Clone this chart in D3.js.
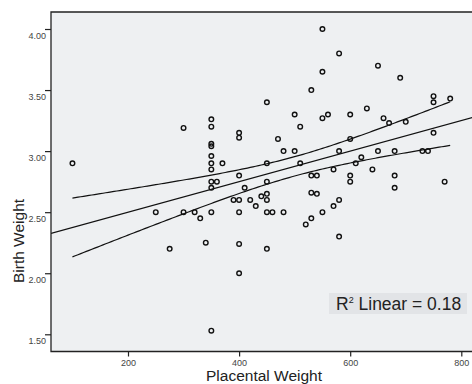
<!DOCTYPE html>
<html>
<head>
<meta charset="utf-8">
<script src="https://cdn.jsdelivr.net/npm/d3@7"></script>
<style>
  body { margin: 0; background: #fff; }
  svg { display: block; font-family: "Liberation Sans", Arial, sans-serif; }
</style>
</head>
<body>
<svg width="472" height="384"></svg>
<script>
// data (grams, kg)
const placentalWeight = [
  100, 250, 300, 320, 330, 350, 400, 450, 460, 480,
  275, 340, 400, 450, 400, 350, 300, 350, 350, 350,
  350, 350, 350, 350, 370, 350, 360, 350, 400, 400,
  400, 410, 390, 400, 420, 430, 440, 450, 450, 450,
  450, 450, 470, 480, 500, 500, 510, 510, 530, 550,
  580, 550, 550, 560, 600, 630, 650, 690, 750, 750,
  780, 660, 670, 700, 600, 580, 650, 680, 730, 740,
  750, 620, 610, 570, 640, 530, 540, 600, 600, 680,
  680, 770, 530, 540, 580, 570, 550, 530, 520, 580
];
const birthWeight = [
  2.90, 2.50, 2.50, 2.50, 2.45, 2.50, 2.50, 2.50, 2.50, 2.50,
  2.20, 2.25, 2.24, 2.20, 2.00, 1.53, 3.19, 3.26, 3.20, 3.06,
  3.04, 2.96, 2.90, 2.85, 2.90, 2.75, 2.75, 2.70, 3.15, 3.11,
  2.80, 2.70, 2.60, 2.60, 2.60, 2.55, 2.63, 2.65, 2.60, 2.75,
  2.90, 3.40, 3.10, 3.00, 3.00, 3.30, 3.20, 2.90, 3.50, 4.00,
  3.80, 3.65, 3.27, 3.30, 3.30, 3.35, 3.70, 3.60, 3.45, 3.40,
  3.43, 3.27, 3.23, 3.24, 3.10, 3.00, 3.00, 3.00, 3.00, 3.00,
  3.15, 2.95, 2.90, 2.85, 2.85, 2.80, 2.80, 2.80, 2.75, 2.80,
  2.70, 2.75, 2.66, 2.65, 2.60, 2.55, 2.50, 2.45, 2.40, 2.30
];
const xTicks = [200, 400, 600, 800];
const yTicks = [1.5, 2.0, 2.5, 3.0, 3.5, 4.0];
const r2Label = "0.18";
const tCrit = 1.987; // t(0.975, n-2)

const points = placentalWeight.map((x, i) => ({x, y: birthWeight[i]}));

const svg = d3.select("svg");
const pl = 51, pt = 12, pr = 476, pb = 351.5;

const x = d3.scaleLinear().domain([200, 800]).range([128, 461.3]);
const y = d3.scaleLinear().domain([4.0, 1.5]).range([29, 334.3]);

// least squares fit + 95% mean CI
const n = points.length;
const mx = d3.mean(points, d => d.x), my = d3.mean(points, d => d.y);
const sxx = d3.sum(points, d => (d.x - mx) ** 2);
const sxy = d3.sum(points, d => (d.x - mx) * (d.y - my));
const slope = sxy / sxx, icpt = my - slope * mx;
const sse = d3.sum(points, d => (d.y - icpt - slope * d.x) ** 2);
const s = Math.sqrt(sse / (n - 2));
const fit = v => icpt + slope * v;
const half = v => tCrit * s * Math.sqrt(1 / n + (v - mx) ** 2 / sxx);

// plot background
svg.append("rect")
    .attr("x", pl).attr("y", pt)
    .attr("width", pr - pl).attr("height", pb - pt)
    .attr("fill", "#eef0f2");

const plot = svg.append("g");
plot.append("clipPath").attr("id", "clip")
    .append("rect").attr("x", pl).attr("y", pt)
    .attr("width", pr - pl).attr("height", pb - pt);

const line = d3.line().x(d => x(d[0])).y(d => y(d[1]));
const [xmin, xmax] = d3.extent(points, d => d.x);
const ciX = d3.range(xmin, xmax + 1, 5);
const g = plot.append("g").attr("clip-path", "url(#clip)")
    .attr("fill", "none").attr("stroke", "#111").attr("stroke-width", 1.2);
g.append("path").attr("d", line([[x.invert(pl), fit(x.invert(pl))], [x.invert(pr), fit(x.invert(pr))]]));
g.append("path").attr("d", line(ciX.map(v => [v, fit(v) + half(v)])));
g.append("path").attr("d", line(ciX.map(v => [v, fit(v) - half(v)])));

plot.append("g")
    .selectAll("circle")
    .data(points)
    .join("circle")
    .attr("cx", d => x(d.x))
    .attr("cy", d => y(d.y))
    .attr("r", 2.3)
    .attr("fill", "none")
    .attr("stroke", "#111")
    .attr("stroke-width", 1.4);

// frame
svg.append("path")
    .attr("d", `M${pr},${pt}H${pl}V${pb}H${pr}`)
    .attr("fill", "none").attr("stroke", "#222").attr("stroke-width", 1.3);

// axes
const xAxis = svg.append("g")
    .attr("transform", `translate(0,${pb})`)
    .call(d3.axisBottom(x).tickValues(xTicks).tickSize(5).tickSizeOuter(0).tickFormat(d3.format("d")));
xAxis.select(".domain").remove();

const yAxis = svg.append("g")
    .attr("transform", `translate(${pl},0)`)
    .call(d3.axisLeft(y).tickValues(yTicks).tickSize(6).tickSizeOuter(0).tickFormat(d3.format(".2f")));
yAxis.select(".domain").remove();
yAxis.selectAll("text").attr("x", -5).attr("dy", "1.05em");

svg.selectAll(".tick line").attr("stroke", "#222").attr("stroke-width", 1.2);
svg.selectAll(".tick text").attr("fill", "#444").attr("font-size", 9)
    .attr("font-family", "Liberation Sans, Arial, sans-serif");

svg.append("text")
    .attr("x", 264).attr("y", 381)
    .attr("text-anchor", "middle")
    .attr("font-size", 15.5).attr("fill", "#222")
    .text("Placental Weight");

svg.append("text")
    .attr("transform", "translate(24,241) rotate(-90)")
    .attr("text-anchor", "middle")
    .attr("font-size", 15.5).attr("fill", "#222")
    .text("Birth Weight");

// R² box
svg.append("rect")
    .attr("x", 329).attr("y", 293).attr("width", 138).attr("height", 21)
    .attr("fill", "#e2e4e7");
const lab = svg.append("text")
    .attr("x", 336).attr("y", 310)
    .attr("font-size", 17.5).attr("fill", "#222");
lab.append("tspan").text("R");
lab.append("tspan").attr("font-size", 9).attr("dy", -7).text("2");
lab.append("tspan").attr("dy", 7).text(" Linear = " + r2Label);
</script>
</body>
</html>
